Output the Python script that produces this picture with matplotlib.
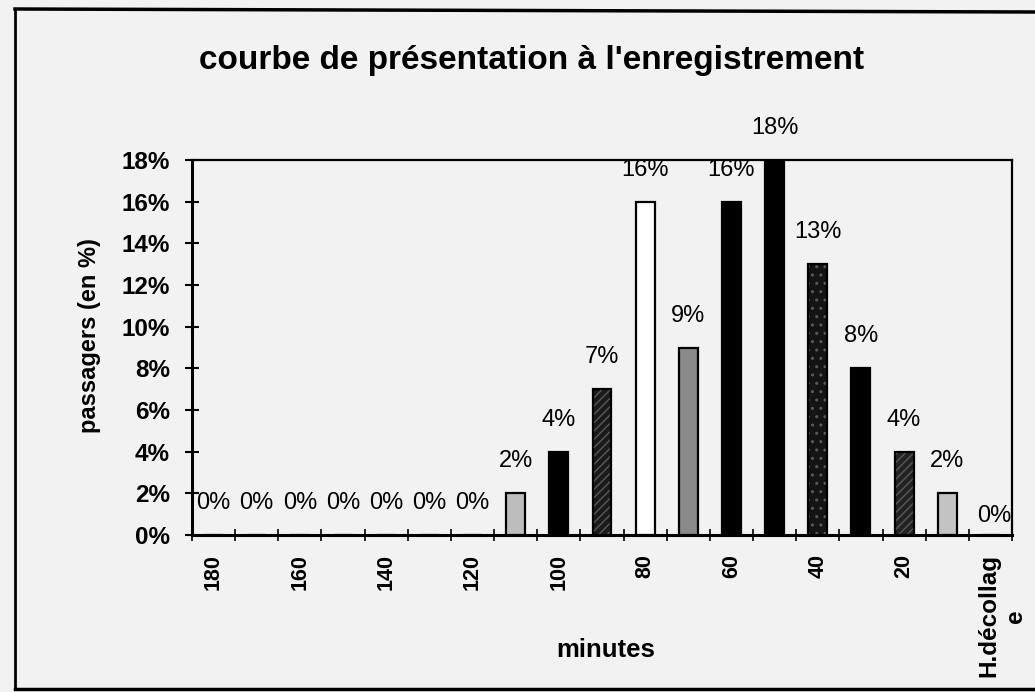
import matplotlib
matplotlib.use("Agg")
import matplotlib.pyplot as plt
from matplotlib.lines import Line2D
from matplotlib.transforms import ScaledTranslation
import numpy as np

# ---- data ----
categories = ['180', '170', '160', '150', '140', '130', '120', '110', '100', '90',
              '80', '70', '60', '50', '40', '30', '20', '10', 'H.décollage']
values = [0, 0, 0, 0, 0, 0, 0, 2, 4, 7, 16, 9, 16, 18, 13, 8, 4, 2, 0]
value_labels = ['0%', '0%', '0%', '0%', '0%', '0%', '0%', '2%', '4%', '7%', '16%', '9%',
                '16%', '18%', '13%', '8%', '4%', '2%', '0%']
tick_text = ['180', '', '160', '', '140', '', '120', '', '100', '', '80', '', '60', '',
             '40', '', '20', '', 'H.décollag\ne']
yticks = [0, 2, 4, 6, 8, 10, 12, 14, 16, 18]
title = "courbe de présentation à l'enregistrement"
xlabel = "minutes"
ylabel = "passagers (en %)"

# ---- styles ----
bar_colors = ['#bdbdbd'] * 7 + ['#bdbdbd', '#000000', '#1a1a1a', '#ffffff', '#8a8a8a',
                                '#000000', '#000000', '#141414', '#000000', '#222222',
                                '#c4c4c4', '#c4c4c4']
bar_hatch = [None] * 9 + ['////', None, None, None, None, '..', None, '////', None, None]

plt.rcParams['font.family'] = ['Liberation Sans', 'DejaVu Sans']
bg = '#f2f2f2'

fig = plt.figure(figsize=(10.35, 6.92), dpi=100, facecolor=bg)
ax = fig.add_axes([192 / 1035, 1 - 535 / 692, (1012 - 192) / 1035, (535 - 160) / 692])
ax.set_facecolor(bg)

x = np.arange(len(categories))
ax.bar(x, values, width=0.44, color=bar_colors, linewidth=0, zorder=2)
for xi, v, h in zip(x, values, bar_hatch):
    if h and v > 0:
        ax.bar(xi, v, width=0.44, color='none', edgecolor='#5a5a5a', hatch=h,
               linewidth=0, zorder=3)
ax.bar(x, values, width=0.44, color='none', edgecolor='black', linewidth=1.6, zorder=4)

ax.set_xlim(-0.5, len(categories) - 0.5)
ax.set_ylim(0, 18)

# data labels
for i, (xi, v, lab) in enumerate(zip(x, values, value_labels)):
    dx, dy = 0, 23
    if i == len(categories) - 1:
        dx, dy = 3, 14
    ax.annotate(lab, (xi, v), xytext=(dx, dy), textcoords='offset points',
                ha='center', va='center', fontsize=17, color='black', zorder=5,
                annotation_clip=False)

# y axis
ax.set_yticks(yticks)
ax.set_yticklabels([f'{t}%' for t in yticks], fontsize=17.5, fontweight='bold')
ax.tick_params(axis='y', direction='inout', length=10, width=1.5, pad=11)

# x axis: labels at centers, tick marks at boundaries
ax.set_xticks(x)
ax.set_xticklabels(tick_text, rotation=90, fontsize=15.5, fontweight='bold',
                   multialignment='center')
ax.tick_params(axis='x', which='major', length=0, pad=14)
ax.set_xticks(np.arange(len(categories) + 1) - 0.5, minor=True)
ax.tick_params(axis='x', which='minor', direction='inout', length=8, width=1.2)

last = ax.get_xticklabels()[-1]
last.set_fontsize(17.5)
last.set_transform(last.get_transform() + ScaledTranslation(0.12, 0, fig.dpi_scale_trans))

for s in ax.spines.values():
    s.set_color('black')
    s.set_linewidth(1.6)
ax.spines['left'].set_linewidth(2.2)
ax.spines['bottom'].set_linewidth(2.2)

ax.set_xlabel(xlabel, fontsize=18.5, fontweight='bold')
ax.xaxis.set_label_coords((606 - 192) / (1012 - 192), -(638 - 535) / (535 - 160))
ax.set_ylabel(ylabel, fontsize=17, fontweight='bold')
ax.yaxis.set_label_coords(-(192 - 101) / (1012 - 192), (535 - 336) / (535 - 160))

fig.text(532 / 1035, 1 - 60 / 692, title, ha='center', va='center',
         fontsize=24, fontweight='bold')

# outer chart border
W, H = 1035, 692
fig.add_artist(Line2D([15 / W, 15 / W], [1 - 689 / H, 1 - 9 / H], color='black', lw=2,
                      transform=fig.transFigure))
fig.add_artist(Line2D([15 / W, 1.0], [1 - 689 / H, 1 - 689 / H], color='black', lw=2.5,
                      transform=fig.transFigure))
fig.add_artist(Line2D([15 / W, 1.0], [1 - 9 / H, 1 - 12 / H], color='black', lw=2.5,
                      transform=fig.transFigure))

fig.savefig('out.png', dpi=100, facecolor=bg)
